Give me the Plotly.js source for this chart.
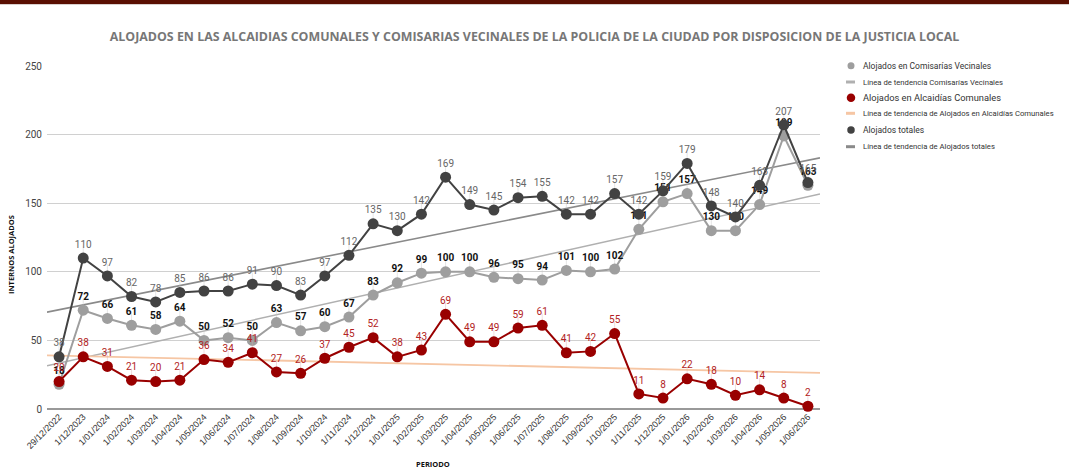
<!DOCTYPE html>
<html><head><meta charset="utf-8">
<script src="https://cdn.plot.ly/plotly-3.0.1.min.js"></script>
<style>html,body{margin:0;padding:0;background:#fff;}#bar{position:absolute;left:0;top:0;width:1069px;height:4px;background:#5a0f02;z-index:10;}#bar2{position:absolute;left:0;top:4px;width:1069px;height:1px;background:#d8d0ce;z-index:10;}</style>
</head><body>
<div id="bar"></div><div id="bar2"></div>
<div id="chart" style="width:1069px;height:469px;"></div>
<script>
const periods = ["29/12/2022","1/12/2023","1/01/2024","1/02/2024","1/03/2024","1/04/2024","1/05/2024","1/06/2024","1/07/2024","1/08/2024","1/09/2024","1/10/2024","1/11/2024","1/12/2024","1/01/2025","1/02/2025","1/03/2025","1/04/2025","1/05/2025","1/06/2025","1/07/2025","1/08/2025","1/09/2025","1/10/2025","1/11/2025","1/12/2025","1/01/2026","1/02/2026","1/03/2026","1/04/2026","1/05/2026","1/06/2026"];
const comisarias = [18,72,66,61,58,64,50,52,50,63,57,60,67,83,92,99,100,100,96,95,94,101,100,102,131,151,157,130,130,149,199,163];
const alcaidias = [20,38,31,21,20,21,36,34,41,27,26,37,45,52,38,43,69,49,49,59,61,41,42,55,11,8,22,18,10,14,8,2];
const totales = [38,110,97,82,78,85,86,86,91,90,83,97,112,135,130,142,169,149,145,154,155,142,142,157,142,159,179,148,140,163,207,165];
const legendNames = ["Alojados en Comisarías Vecinales","Línea de tendencia Comisarías Vecinales","Alojados en Alcaidías Comunales","Línea de tendencia de Alojados en Alcaidías Comunales","Alojados totales","Línea de tendencia de Alojados totales"];

const idx = periods.map((_, i) => i);
function trend(y) {
  const n = y.length;
  const mx = idx.reduce((a, b) => a + b, 0) / n;
  const my = y.reduce((a, b) => a + b, 0) / n;
  let sxy = 0, sxx = 0;
  for (let i = 0; i < n; i++) { sxy += (idx[i] - mx) * (y[i] - my); sxx += (idx[i] - mx) ** 2; }
  const b = sxy / sxx, a = my - b * mx;
  const xs = [-0.5, n - 0.5];
  return { x: xs, y: xs.map(x => a + b * x) };
}
const tC = trend(comisarias), tA = trend(alcaidias), tT = trend(totales);

const cCom = "#9e9e9e", cAlc = "#990000", cTot = "#424242";
const cTrC = "#b0b0b0", cTrA = "#f6c6a4", cTrT = "#8a8a8a";

const lblFont = "Roboto, 'Open Sans', sans-serif";
function leader(col) { return { type: "constant", value: 8.5, valueminus: 0, symmetric: false, thickness: 1, width: 0, color: col }; }
const traces = [
  { x: tC.x, y: tC.y, mode: "lines", line: { color: cTrC, width: 1.5 }, hoverinfo: "skip" },
  { x: tA.x, y: tA.y, mode: "lines", line: { color: cTrA, width: 1.8 }, hoverinfo: "skip" },
  { x: tT.x, y: tT.y, mode: "lines", line: { color: cTrT, width: 1.6 }, hoverinfo: "skip" },
  { x: idx, y: comisarias, mode: "lines+markers+text",
    line: { color: cCom, width: 2 }, marker: { color: cCom, size: 11 },
    error_y: leader("rgba(200,200,200,0.45)"),
    text: comisarias.map(String), textposition: "top center",
    textfont: { family: lblFont, size: 10, color: "#111", weight: 700 }, cliponaxis: false },
  { x: idx, y: alcaidias, mode: "lines+markers+text",
    line: { color: cAlc, width: 2 }, marker: { color: cAlc, size: 11 },
    error_y: leader("rgba(220,170,170,0.4)"),
    text: alcaidias.map(String), textposition: "top center",
    textfont: { family: lblFont, size: 10, color: "#b22222" }, cliponaxis: false },
  { x: idx, y: totales, mode: "lines+markers+text",
    line: { color: cTot, width: 2 }, marker: { color: cTot, size: 11 },
    error_y: leader("rgba(200,200,200,0.45)"),
    text: totales.map(String), textposition: "top center",
    textfont: { family: lblFont, size: 10, color: "#666" }, cliponaxis: false }
];

// pixel helpers (plot area: x 47..820, y 66..409)
const PL = 47, PR = 820, PT = 66, PB = 409;
const px = v => (v - PL) / (PR - PL);
const py = v => (PB - v) / (PB - PT);

const legendItems = [
  { kind: "dot", color: cCom, y: 65.7, d: 7, size: 8.5 },
  { kind: "dash", color: cTrC, y: 82, size: 7.7 },
  { kind: "dot", color: cAlc, y: 97.7, d: 8.5, size: 9.3 },
  { kind: "dash", color: cTrA, y: 113.3, size: 7.7 },
  { kind: "dot", color: cTot, y: 130, d: 7.5, size: 8.5 },
  { kind: "dash", color: cTrT, y: 146.7, size: 7.7 }
];
const shapes = [], annotations = [];
legendItems.forEach((it, i) => {
  if (it.kind === "dot") {
    shapes.push({ type: "circle", xref: "paper", yref: "paper", xsizemode: "pixel", ysizemode: "pixel",
      xanchor: px(851), yanchor: py(it.y), x0: -it.d / 2, x1: it.d / 2, y0: -it.d / 2, y1: it.d / 2,
      fillcolor: it.color, line: { width: 0 } });
  } else {
    shapes.push({ type: "line", xref: "paper", yref: "paper", x0: px(846), x1: px(855), y0: py(it.y), y1: py(it.y),
      line: { color: it.color, width: 3 } });
  }
  annotations.push({ xref: "paper", yref: "paper", x: px(861), y: py(it.y), xanchor: "left", yanchor: "middle",
    text: legendNames[i], showarrow: false, font: { family: "Roboto, sans-serif", size: it.size, color: "#333" } });
});
annotations.push({ xref: "paper", yref: "paper", x: px(11), y: py(255), xanchor: "center", yanchor: "middle",
  text: "INTERNOS ALOJADOS", textangle: -90, showarrow: false,
  font: { family: "'Open Sans', sans-serif", size: 7.5, color: "#111", weight: 700 } });
annotations.push({ xref: "paper", yref: "paper", x: px(433), y: py(463.5), xanchor: "center", yanchor: "middle",
  text: "PERIODO", showarrow: false,
  font: { family: "'Open Sans', sans-serif", size: 7.5, color: "#111", weight: 700 } });

const layout = {
  width: 1069, height: 469,
  margin: { l: PL, r: 1069 - PR, t: PT, b: 469 - PB },
  paper_bgcolor: "#fff", plot_bgcolor: "#fff",
  showlegend: false,
  title: { text: "ALOJADOS EN LAS ALCAIDIAS COMUNALES Y COMISARIAS VECINALES DE LA POLICIA DE LA CIUDAD POR DISPOSICION DE LA JUSTICIA LOCAL",
    font: { family: "'Open Sans', sans-serif", size: 12.4, color: "#777", weight: 700 },
    x: 0.5, xref: "container", y: 0.921, yref: "container", yanchor: "middle" },
  xaxis: { range: [-0.5, periods.length - 0.5], tickvals: idx, ticktext: periods, tickangle: -45,
    tickfont: { family: "'Liberation Sans', Arial, sans-serif", size: 9, color: "#333" },
    showgrid: false, zeroline: false, showline: false, ticks: "" },
  yaxis: { range: [0, 250], dtick: 50, gridcolor: "#d0d0d0", gridwidth: 1,
    zeroline: true, zerolinecolor: "#999", zerolinewidth: 1.5,
    tickfont: { family: "Roboto, sans-serif", size: 10, color: "#444" }, ticks: "", ticklabelstandoff: 4 },
  shapes: shapes,
  annotations: annotations
};
Plotly.newPlot("chart", traces, layout, { displayModeBar: false, staticPlot: true });
</script>
</body></html>
